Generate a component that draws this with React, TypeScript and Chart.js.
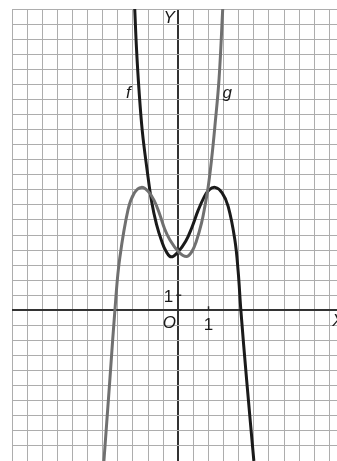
import React, { useEffect, useRef } from "react";
import { Chart, registerables } from "chart.js";

Chart.register(...registerables);

// Curve f (black)
const fX = [-1.44, -1.38, -1.3, -1.19, -1.03, -0.88, -0.72, -0.55, -0.4, -0.23, 0, 0.25, 0.45, 0.65, 0.85, 1.02, 1.22, 1.45, 1.65, 1.87, 1.98, 2.07, 2.26, 2.5];
const fY = [20, 17.3, 14.65, 11.9, 9.3, 7.2, 5.7, 4.6, 3.9, 3.55, 3.9, 4.6, 5.5, 6.6, 7.5, 8.0, 8.16, 7.8, 6.9, 4.7, 2.6, 0, -4.6, -10];

// Curve g (gray)
const gX = [-2.46, -2.27, -2.07, -1.94, -1.66, -1.45, -1.22, -1.0, -0.8, -0.61, -0.45, -0.28, 0, 0.27, 0.45, 0.6, 0.77, 0.88, 0.99, 1.1, 1.21, 1.35, 1.47];
const gY = [-10, -4.8, 0.7, 3.4, 6.7, 7.8, 8.16, 7.9, 7.3, 6.35, 5.4, 4.69, 3.9, 3.57, 3.9, 4.6, 5.8, 6.9, 8.2, 10.0, 12.2, 15.4, 20];

// Axis ranges and grid steps
const xRange = [-5.5, 5.25];
const yRange = [-10, 20];
const xStep = 0.5;
const yStep = 1;

const FONT = '"Liberation Sans", Arial, sans-serif';

const labelsPlugin = {
  id: "mathLabels",
  afterDatasetsDraw(chart: any) {
    const { ctx, scales } = chart;
    const xs = scales.x;
    const ys = scales.y;
    const x0 = xs.getPixelForValue(0);
    const y0 = ys.getPixelForValue(0);
    const x1 = xs.getPixelForValue(1);
    const y1 = ys.getPixelForValue(1);
    ctx.save();
    ctx.strokeStyle = "#2a2a2a";
    ctx.lineWidth = 1.5;
    ctx.beginPath();
    ctx.moveTo(x0 - 2, y1);
    ctx.lineTo(x0 + 3, y1);
    ctx.moveTo(x1, y0 - 4);
    ctx.lineTo(x1, y0);
    ctx.stroke();

    ctx.fillStyle = "#1a1a1a";
    ctx.textBaseline = "middle";
    ctx.font = `17px ${FONT}`;
    ctx.textAlign = "right";
    ctx.fillText("1", x0 - 5, y1 + 2);
    ctx.textAlign = "center";
    ctx.fillText("1", x1, y0 + 15);
    ctx.font = `italic 17px ${FONT}`;
    ctx.fillText("O", x0 - 9, y0 + 13);
    ctx.fillText("Y", x0 - 9, ys.getPixelForValue(19.4));
    ctx.textAlign = "left";
    ctx.fillText("X", x0 + 154, y0 + 11);
    ctx.textAlign = "center";
    ctx.fillText("f", xs.getPixelForValue(-1.65), ys.getPixelForValue(14.4));
    ctx.fillText("g", xs.getPixelForValue(1.62), ys.getPixelForValue(14.4));
    ctx.restore();
  },
};

export default function App() {
  const ref = useRef<HTMLCanvasElement | null>(null);

  useEffect(() => {
    if (!ref.current) return;
    const toPts = (xa: number[], ya: number[]) => xa.map((x, i) => ({ x, y: ya[i] }));
    const gridColor = (c: any) => (c.tick && c.tick.value === 0 ? "#333333" : "#adadad");
    const gridWidth = (c: any) => (c.tick && c.tick.value === 0 ? 2 : 1);
    const chart = new Chart(ref.current, {
      type: "scatter",
      data: {
        datasets: [
          {
            label: "g",
            data: toPts(gX, gY),
            showLine: true,
            borderColor: "#707070",
            borderWidth: 3,
            pointRadius: 0,
            tension: 0.4,
          },
          {
            label: "f",
            data: toPts(fX, fY),
            showLine: true,
            borderColor: "#1a1a1a",
            borderWidth: 3,
            pointRadius: 0,
            tension: 0.4,
          },
        ],
      },
      options: {
        animation: false,
        responsive: false,
        devicePixelRatio: 1,
        layout: { padding: { left: 12, top: 9, right: 0, bottom: 0 } },
        plugins: { legend: { display: false }, tooltip: { enabled: false } },
        scales: {
          x: {
            type: "linear",
            min: xRange[0],
            max: xRange[1],
            ticks: { display: false, stepSize: xStep, includeBounds: false },
            grid: { color: gridColor, lineWidth: gridWidth, drawTicks: false },
            border: { display: false },
          },
          y: {
            type: "linear",
            min: yRange[0],
            max: yRange[1],
            ticks: { display: false, stepSize: yStep },
            grid: { color: gridColor, lineWidth: gridWidth, drawTicks: false },
            border: { display: false },
          },
        },
      },
      plugins: [labelsPlugin],
    } as any);
    return () => chart.destroy();
  }, []);

  return (
    <div style={{ position: "fixed", left: 0, top: 0, width: 337, height: 461, overflow: "hidden", background: "#fff" }}>
      <canvas ref={ref} width={337} height={461} />
    </div>
  );
}
